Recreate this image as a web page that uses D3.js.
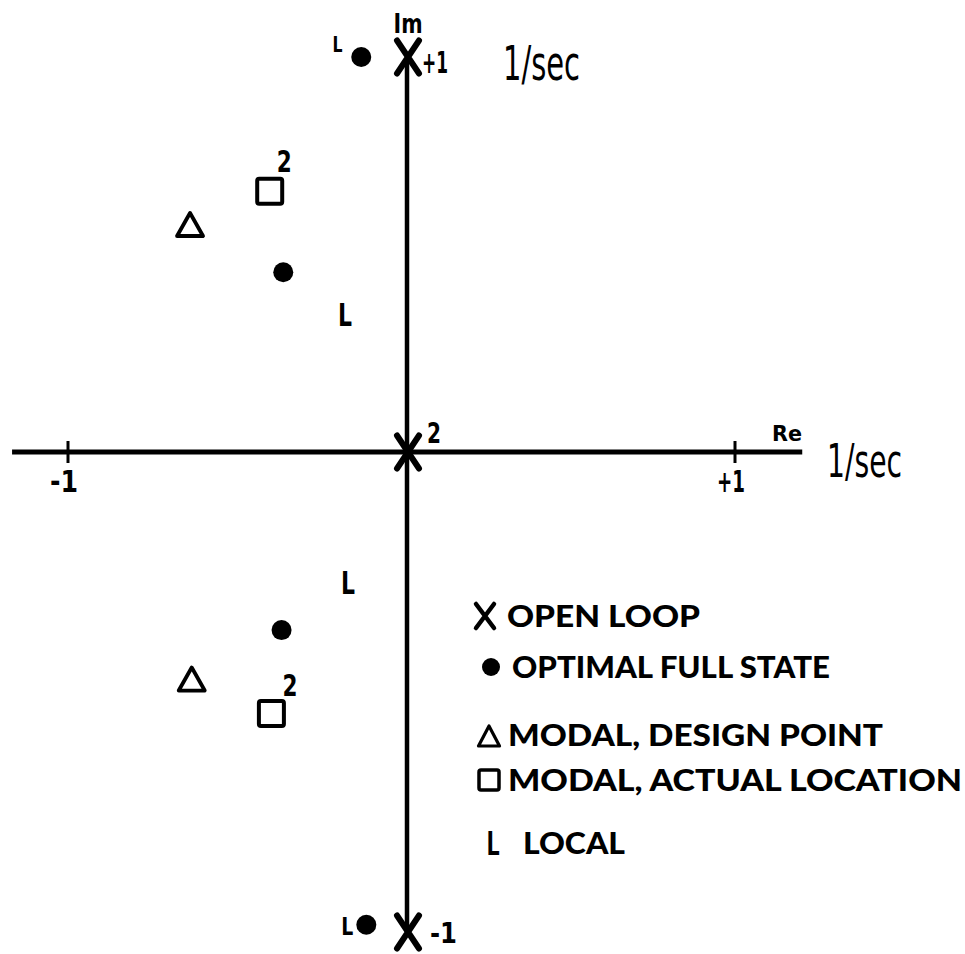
<!DOCTYPE html>
<html>
<head>
<meta charset="utf-8">
<script src="https://cdn.jsdelivr.net/npm/d3@7/dist/d3.min.js"></script>
<style>
  html, body { margin: 0; padding: 0; background: #fff; }
  svg { display: block; }
</style>
</head>
<body>
<svg id="chart" width="965" height="954"></svg>
<script>
// Closed-loop root locations in the complex plane (units: 1/sec)

// axis extents and tick marks
const reExtent = [-1.165, 1.205];
const imExtent = [-1, 1];
const reTicks = [-1, 1];
const reTickLabels = ["-1", "+1"];

// open-loop poles (X) with their annotations
const openLoopRe = [0, 0, 0];
const openLoopIm = [1, 0, -1];
const openLoopNotes = ["+1", "2", "-1"];

// optimal full-state feedback roots (filled dots)
const optimalRe = [-0.135, -0.365, -0.37, -0.12];
const optimalIm = [1.0, 0.455, -0.371, -0.985];

// modal control, design point (triangles)
const designRe = [-0.64, -0.635];
const designIm = [0.576, -0.473];

// modal control, actual location (squares), each a double root
const actualRe = [-0.405, -0.40];
const actualIm = [0.66, -0.545];
const actualNotes = ["2", "2"];

// local control roots (L)
const localRe = [-0.183, -0.174];
const localIm = [0.35, -0.27];
// local roots lying next to the optimal roots at ±1
const localPoleRe = [-0.205, -0.176];
const localPoleIm = [1.032, -0.9875];

// legend entries
const legendKeys = ["x", "dot", "tri", "sq", "L"];
const legendLabels = ["OPEN LOOP", "OPTIMAL FULL STATE", "MODAL, DESIGN POINT", "MODAL, ACTUAL LOCATION", "LOCAL"];

const svg = d3.select("#chart");

const x = d3.scaleLinear().domain([-1, 0, 1]).range([68, 407, 735]);
const y = d3.scaleLinear().domain([-1, 0, 1]).range([932, 452, 57]);

const ink = "#000";
const boldFont = "'DejaVu Sans', sans-serif";
const legendFont = "Lato, 'DejaVu Sans', sans-serif";
const unitFont = "'DejaVu Sans Condensed', 'Liberation Sans Narrow', 'DejaVu Sans', sans-serif";

// ---- axes ----
const axes = svg.append("g").attr("stroke", ink).attr("stroke-linecap", "butt");
axes.append("line")
  .attr("x1", x(reExtent[0])).attr("x2", x(reExtent[1]))
  .attr("y1", y(0)).attr("y2", y(0))
  .attr("stroke-width", 5);
axes.append("line")
  .attr("x1", x(0)).attr("x2", x(0))
  .attr("y1", y(imExtent[1])).attr("y2", y(imExtent[0]))
  .attr("stroke-width", 4.5);

// tick marks crossing the real axis
axes.selectAll("line.tick").data(reTicks).join("line")
  .attr("class", "tick")
  .attr("x1", d => x(d)).attr("x2", d => x(d))
  .attr("y1", y(0) - 11).attr("y2", y(0) + 11)
  .attr("stroke-width", 3);

svg.selectAll("text.ticklabel").data(reTicks).join("text")
  .attr("class", "ticklabel")
  .attr("x", d => x(d) - 4).attr("y", y(0) + 40)
  .attr("text-anchor", "middle")
  .attr("font-family", boldFont).attr("font-weight", "bold")
  .attr("font-size", 31)
  .attr("textLength", 28).attr("lengthAdjust", "spacingAndGlyphs")
  .text((d, i) => reTickLabels[i]);

// axis names
svg.append("text")
  .attr("x", x(0) + 1).attr("y", 33)
  .attr("text-anchor", "middle")
  .attr("font-family", boldFont).attr("font-weight", "bold").attr("font-size", 27)
  .attr("textLength", 29).attr("lengthAdjust", "spacingAndGlyphs")
  .text("Im");
svg.append("text")
  .attr("x", 772).attr("y", 441)
  .attr("font-family", boldFont).attr("font-weight", "bold").attr("font-size", 21)
  .attr("textLength", 30).attr("lengthAdjust", "spacingAndGlyphs")
  .text("Re");

// units
svg.append("text")
  .attr("x", 503).attr("y", 80)
  .attr("font-family", unitFont).attr("font-size", 48)
  .attr("textLength", 77).attr("lengthAdjust", "spacingAndGlyphs")
  .text("1/sec");
svg.append("text")
  .attr("x", 827).attr("y", 477)
  .attr("font-family", unitFont).attr("font-size", 46)
  .attr("textLength", 75).attr("lengthAdjust", "spacingAndGlyphs")
  .text("1/sec");

// ---- marker shapes ----
function crossPath(w, h) {
  return `M${-w / 2},${-h / 2}L${w / 2},${h / 2}M${w / 2},${-h / 2}L${-w / 2},${h / 2}`;
}
function triPath(w, h) {
  return `M0,${-h / 2}L${w / 2},${h / 2}L${-w / 2},${h / 2}Z`;
}

// open-loop poles
const ol = d3.range(openLoopRe.length);
svg.selectAll("path.openloop").data(ol).join("path")
  .attr("class", "openloop")
  .attr("transform", i => `translate(${x(openLoopRe[i]) + 1},${y(openLoopIm[i])})`)
  .attr("d", crossPath(22, 33))
  .attr("fill", "none").attr("stroke", ink)
  .attr("stroke-width", 6).attr("stroke-linecap", "round");

// annotations: "+1" / "-1" beside the poles, "2" for the double pole at the origin
const olNoteDx = [15, 20, 23];
const olNoteDy = [16, -9, 11];
const olNoteSize = [30, 29, 28];
const olNoteLen = [26, 14, 27];
svg.selectAll("text.olnote").data(ol).join("text")
  .attr("class", "olnote")
  .attr("x", i => x(openLoopRe[i]) + olNoteDx[i])
  .attr("y", i => y(openLoopIm[i]) + olNoteDy[i])
  .attr("font-family", boldFont).attr("font-weight", "bold")
  .attr("font-size", i => olNoteSize[i])
  .attr("textLength", i => olNoteLen[i])
  .attr("lengthAdjust", "spacingAndGlyphs")
  .text(i => openLoopNotes[i]);

// optimal full-state roots
svg.selectAll("circle.optimal").data(d3.range(optimalRe.length)).join("circle")
  .attr("class", "optimal")
  .attr("cx", i => x(optimalRe[i])).attr("cy", i => y(optimalIm[i]))
  .attr("r", 10).attr("fill", ink);

// modal design points
svg.selectAll("path.design").data(d3.range(designRe.length)).join("path")
  .attr("class", "design")
  .attr("transform", i => `translate(${x(designRe[i])},${y(designIm[i])})`)
  .attr("d", triPath(26, 23))
  .attr("fill", "none").attr("stroke", ink)
  .attr("stroke-width", 3.8).attr("stroke-linejoin", "round");

// modal actual locations
svg.selectAll("rect.actual").data(d3.range(actualRe.length)).join("rect")
  .attr("class", "actual")
  .attr("x", i => x(actualRe[i]) - 12.5).attr("y", i => y(actualIm[i]) - 12.5)
  .attr("width", 25).attr("height", 25).attr("rx", 2)
  .attr("fill", "none").attr("stroke", ink).attr("stroke-width", 4);

svg.selectAll("text.actualnote").data(d3.range(actualRe.length)).join("text")
  .attr("class", "actualnote")
  .attr("x", i => x(actualRe[i]) + (i === 0 ? 7 : 11))
  .attr("y", i => y(actualIm[i]) - (i === 0 ? 19 : 18))
  .attr("font-family", boldFont).attr("font-weight", "bold").attr("font-size", 31)
  .attr("textLength", 15).attr("lengthAdjust", "spacingAndGlyphs")
  .text(i => actualNotes[i]);

// local control roots
svg.selectAll("text.local").data(d3.range(localRe.length)).join("text")
  .attr("class", "local")
  .attr("x", i => x(localRe[i])).attr("y", i => y(localIm[i]) + 12)
  .attr("text-anchor", "middle")
  .attr("font-family", boldFont).attr("font-weight", "bold").attr("font-size", 32)
  .attr("textLength", 14).attr("lengthAdjust", "spacingAndGlyphs")
  .text("L");
svg.selectAll("text.localpole").data(d3.range(localPoleRe.length)).join("text")
  .attr("class", "localpole")
  .attr("x", i => x(localPoleRe[i])).attr("y", i => y(localPoleIm[i]) + (i === 0 ? 8 : 9))
  .attr("text-anchor", "middle")
  .attr("font-family", boldFont).attr("font-weight", "bold")
  .attr("font-size", i => i === 0 ? 22 : 25)
  .attr("textLength", i => i === 0 ? 10 : 12).attr("lengthAdjust", "spacingAndGlyphs")
  .text("L");

// ---- legend ----
const legendRowY = [616, 667, 735, 780, 843];
const legendTextLen = [193, 318, 375, 454, 102];
const legendTextX = [507, 512, 508, 508, 523];
const symX = 489;
const legend = svg.append("g");
legendKeys.forEach((k, i) => {
  const cy = legendRowY[i];
  if (k === "x") {
    legend.append("path")
      .attr("transform", `translate(${symX - 4},${cy})`)
      .attr("d", crossPath(18, 24))
      .attr("fill", "none").attr("stroke", ink).attr("stroke-width", 4.5)
      .attr("stroke-linecap", "round");
  } else if (k === "dot") {
    legend.append("circle").attr("cx", symX + 2).attr("cy", cy).attr("r", 9).attr("fill", ink);
  } else if (k === "tri") {
    legend.append("path")
      .attr("transform", `translate(${symX},${cy + 1})`)
      .attr("d", triPath(21, 20))
      .attr("fill", "none").attr("stroke", ink).attr("stroke-width", 3.2)
      .attr("stroke-linejoin", "round");
  } else if (k === "sq") {
    legend.append("rect")
      .attr("x", symX - 10).attr("y", cy - 10).attr("width", 20).attr("height", 20).attr("rx", 2)
      .attr("fill", "none").attr("stroke", ink).attr("stroke-width", 3.5);
  } else {
    legend.append("text")
      .attr("x", symX + 4).attr("y", cy + 12)
      .attr("text-anchor", "middle")
      .attr("font-family", legendFont).attr("font-weight", 900).attr("font-size", 32)
      .attr("textLength", 13).attr("lengthAdjust", "spacingAndGlyphs")
      .text("L");
  }
  legend.append("text")
    .attr("x", legendTextX[i]).attr("y", cy + 11)
    .attr("font-family", legendFont).attr("font-weight", 900).attr("font-size", 30)
    .attr("textLength", legendTextLen[i]).attr("lengthAdjust", "spacingAndGlyphs")
    .text(legendLabels[i]);
});
</script>
</body>
</html>
